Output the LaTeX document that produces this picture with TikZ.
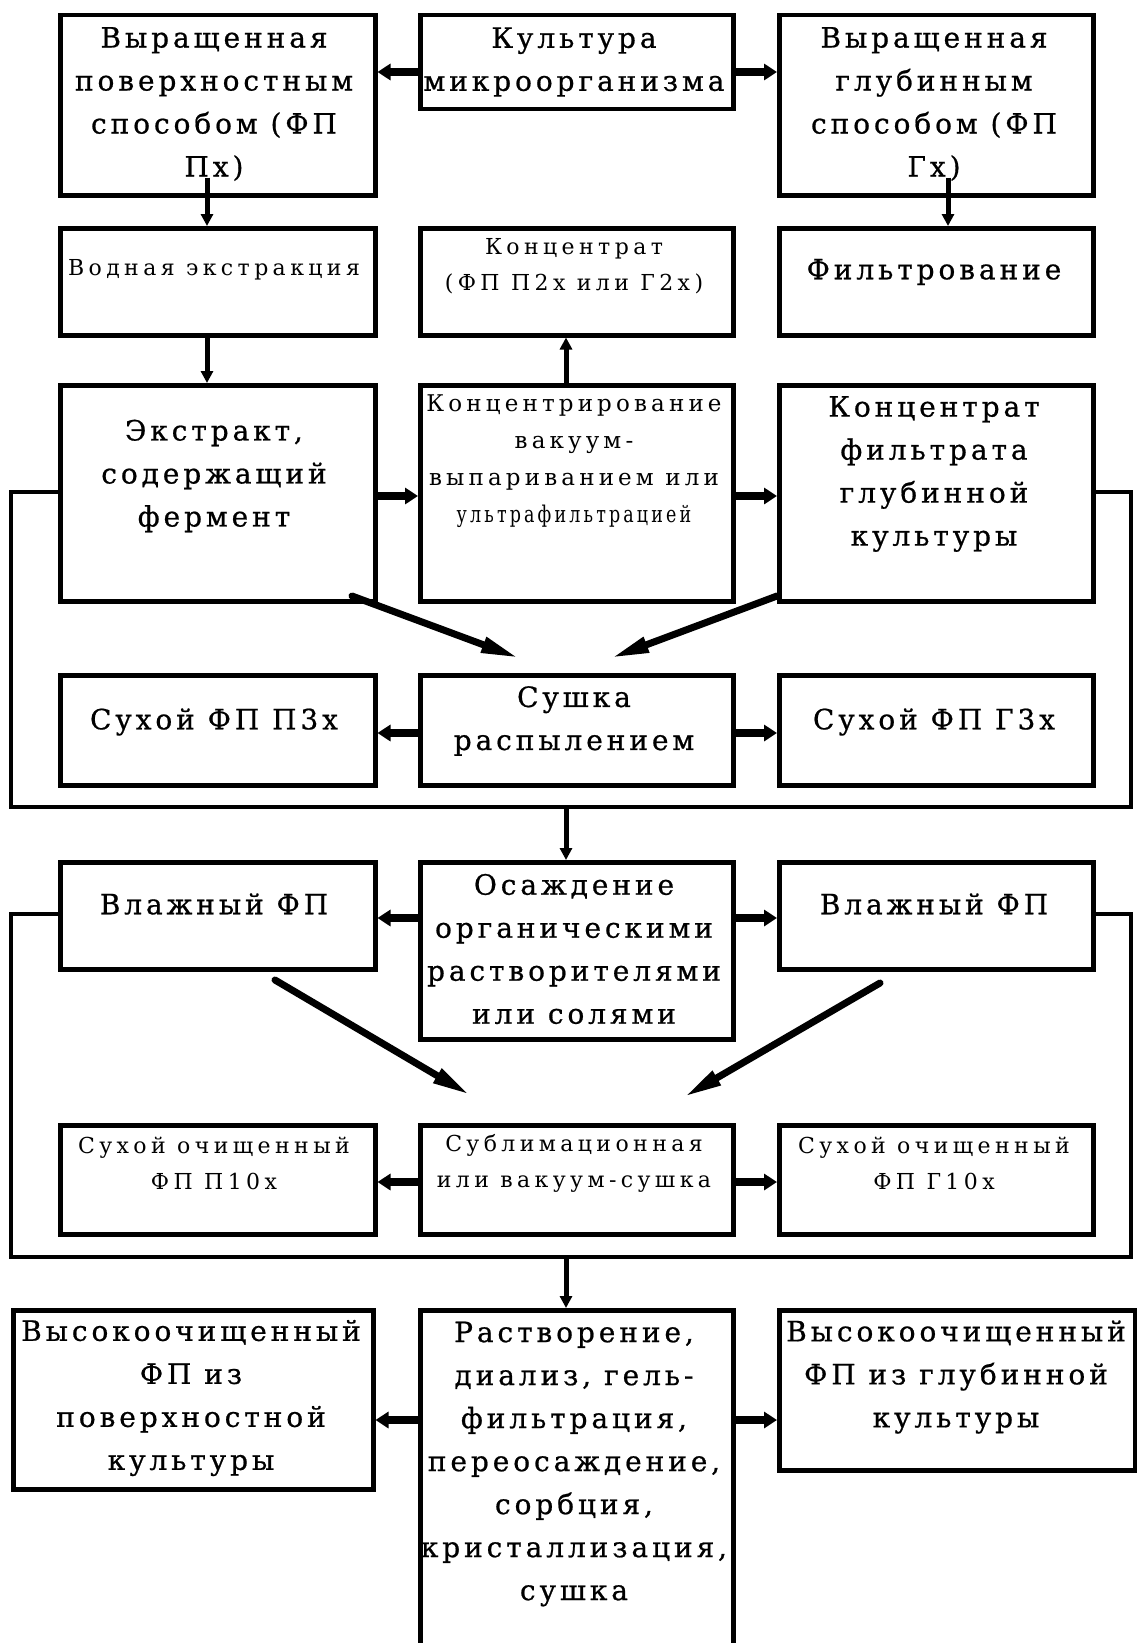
\documentclass[tikz,border=0pt]{standalone}
\usepackage{fontspec}
\usepackage{graphicx}
\usetikzlibrary{arrows.meta,calc}
\setmainfont{DejaVu Serif}
\newfontfamily\bigf[LetterSpace=14,FakeBold=0.7]{DejaVu Serif}
\newfontfamily\smallf[LetterSpace=20]{DejaVu Serif}
\newfontfamily\midf[LetterSpace=18]{DejaVu Serif}
\tikzset{
  box/.style={draw, line width=4.5pt, inner sep=0pt, anchor=north west, fill=white},
  bigtext/.style={align=center, inner sep=0pt, font=\bigf\fontsize{28}{43}\selectfont},
  smalltext/.style={align=center, inner sep=0pt, font=\smallf\fontsize{22}{36}\selectfont},
  midtext/.style={align=center, inner sep=0pt, font=\midf\fontsize{23}{37}\selectfont},
  harrow/.style={line width=8pt, -{Triangle[length=13pt,width=16pt]}},
  varrow/.style={line width=5pt, -{Triangle[length=12pt,width=12pt]}},
  darrow/.style={line width=7pt, line cap=round, -{Triangle[length=38pt,width=15pt]}},
  bracket/.style={line width=4pt},
}
\begin{document}
\begin{tikzpicture}[x=1pt,y=-1pt]
\useasboundingbox (0,0) rectangle (1137,1643);
\fill[white] (0,0) rectangle (1137,1643);
\begin{scope}
\clip (0,0) rectangle (1137,1643);
% row 1
\node[box, minimum width=315, minimum height=180] (L1) at (58,13) {};
\node[box, minimum width=313, minimum height=94] (C1) at (418,13) {};
\node[box, minimum width=314, minimum height=180] (R1) at (777,13) {};
% row 2
\node[box, minimum width=315, minimum height=107] (L2) at (58,226) {};
\node[box, minimum width=313, minimum height=107] (C2) at (418,226) {};
\node[box, minimum width=314, minimum height=107] (R2) at (777,226) {};
% row 3
\node[box, minimum width=315, minimum height=216] (L3) at (58,383) {};
\node[box, minimum width=313, minimum height=216] (C3) at (418,383) {};
\node[box, minimum width=314, minimum height=216] (R3) at (777,383) {};
% row 4
\node[box, minimum width=315, minimum height=110] (L4) at (58,673) {};
\node[box, minimum width=313, minimum height=110] (C4) at (418,673) {};
\node[box, minimum width=314, minimum height=110] (R4) at (777,673) {};
% row 5
\node[box, minimum width=315, minimum height=107] (L5) at (58,860) {};
\node[box, minimum width=313, minimum height=177] (C5) at (418,860) {};
\node[box, minimum width=314, minimum height=107] (R5) at (777,860) {};
% row 6
\node[box, minimum width=315, minimum height=109] (L6) at (58,1123) {};
\node[box, minimum width=313, minimum height=109] (C6) at (418,1123) {};
\node[box, minimum width=314, minimum height=109] (R6) at (777,1123) {};
% row 7
\node[box, minimum width=360, minimum height=179] (L7) at (11,1308) {};
\node[box, minimum width=313, minimum height=420] (C7) at (418,1308) {};
\node[box, minimum width=356, minimum height=160] (R7) at (777,1308) {};

% texts
\node[bigtext] (L1t) at (214,104) {Выращенная\\поверхностным\\способом (ФП\\Пх)};
\node[bigtext] (C1t) at (574,62) {Культура\\микроорганизма};
\node[bigtext] (R1t) at (934,104) {Выращенная\\глубинным\\способом (ФП\\Гх)};
\node[smalltext] (L2t) at (214,270) {Водная экстракция};
\node[smalltext] (C2t) at (574,266) {Концентрат\\(ФП П2х или Г2х)};
\node[bigtext] (R2t) at (934,272) {Фильтрование};
\node[bigtext] (L3t) at (214,476) {Экстракт,\\содержащий\\фермент};
\node[midtext] (C3t) at (574,461) {Концентрирование\\вакуум-\\выпариванием или\\\scalebox{0.76}[1]{ультрафильтрацией}};
\node[bigtext] (R3t) at (934,474) {Концентрат\\фильтрата\\глубинной\\культуры};
\node[bigtext] (L4t) at (214,722) {Сухой ФП П3х};
\node[bigtext] (C4t) at (574,721) {Сушка\\распылением};
\node[bigtext] (R4t) at (934,722) {Сухой ФП Г3х};
\node[bigtext] (L5t) at (214,904) {Влажный ФП};
\node[bigtext] (C5t) at (574,949) {Осаждение\\органическими\\растворителями\\или солями};
\node[bigtext] (R5t) at (934,904) {Влажный ФП};
\node[smalltext] (L6t) at (214,1163) {Сухой очищенный\\ФП П10х};
\node[smalltext] (C6t) at (574,1163) {Сублимационная\\или вакуум-сушка};
\node[smalltext] (R6t) at (934,1163) {Сухой очищенный\\ФП Г10х};
\node[bigtext] (L7t) at (191,1398) {Высокоочищенный\\ФП из\\поверхностной\\культуры};
\node[bigtext] (C7t) at (574,1464) {Растворение,\\диализ, гель-\\фильтрация,\\переосаждение,\\сорбция,\\кристаллизация,\\сушка};
\node[bigtext] (R7t) at (956,1377) {Высокоочищенный\\ФП из глубинной\\культуры};

% helper coordinates
\coordinate (y1) at (0,72);
\coordinate (y3) at (0,496);
\coordinate (y4) at (0,733);
\coordinate (y5) at (0,918);
\coordinate (y6) at (0,1182);
\coordinate (y7) at (0,1420);
\coordinate (xl) at (207,0);
\coordinate (xr) at (948,0);
\coordinate (xc) at (566,0);
\coordinate (yb1) at (0,492);
\coordinate (yb2) at (0,914);

% horizontal arrows
\draw[harrow] (C1.west |- y1) -- (L1.east |- y1);
\draw[harrow] (C1.east |- y1) -- (R1.west |- y1);
\draw[harrow] (L3.east |- y3) -- (C3.west |- y3);
\draw[harrow] (C3.east |- y3) -- (R3.west |- y3);
\draw[harrow] (C4.west |- y4) -- (L4.east |- y4);
\draw[harrow] (C4.east |- y4) -- (R4.west |- y4);
\draw[harrow] (C5.west |- y5) -- (L5.east |- y5);
\draw[harrow] (C5.east |- y5) -- (R5.west |- y5);
\draw[harrow] (C6.west |- y6) -- (L6.east |- y6);
\draw[harrow] (C6.east |- y6) -- (R6.west |- y6);
\draw[harrow] (C7.west |- y7) -- (L7.east |- y7);
\draw[harrow] (C7.east |- y7) -- (R7.west |- y7);

% vertical arrows
\draw[varrow] ($(L1.south -| xl)+(0,-20)$) -- (L2.north -| xl);
\draw[varrow] ($(R1.south -| xr)+(0,-20)$) -- (R2.north -| xr);
\draw[varrow] (L2.south -| xl) -- (L3.north -| xl);
\draw[varrow] (C3.north -| xc) -- (C2.south -| xc);

% brackets
\coordinate (b1l) at (11,807);
\coordinate (b1r) at (1131,807);
\draw[bracket] (L3.west |- yb1) -| (b1l) -- (b1r) |- (R3.east |- yb1);
\draw[varrow] (b1l -| xc) -- (C5.north -| xc);
\coordinate (b2l) at (11,1257);
\coordinate (b2r) at (1131,1257);
\draw[bracket] (L5.west |- yb2) -| (b2l) -- (b2r) |- (R5.east |- yb2);
\draw[varrow] (b2l -| xc) -- (C7.north -| xc);

% diagonal arrows
\coordinate (d1s) at (352,596);
\coordinate (d1e) at (519,658);
\coordinate (d2s) at (777,596);
\coordinate (d2e) at (611,658);
\coordinate (d3s) at (275,980);
\coordinate (d3e) at (470,1095);
\coordinate (d4s) at (880,983);
\coordinate (d4e) at (684,1097);
\draw[darrow] (d1s) -- (d1e);
\draw[darrow] (d2s) -- (d2e);
\draw[darrow] (d3s) -- (d3e);
\draw[darrow] (d4s) -- (d4e);
\end{scope}
\end{tikzpicture}
\end{document}
